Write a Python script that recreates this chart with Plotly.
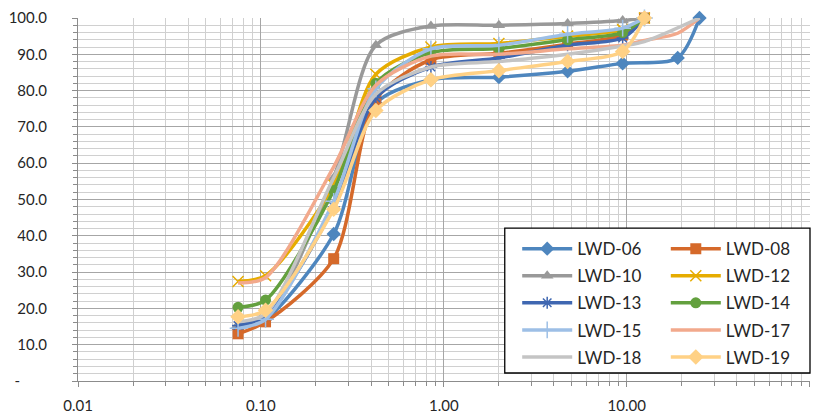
import plotly.graph_objects as go

sieve_mm = [0.075, 0.106, 0.25, 0.425, 0.85, 2.0, 4.75, 9.5, 12.5, 19.0, 25.0]

lwd06 = [14.5, 17.0, 40.5, 76.5, 83.0, 83.7, 85.3, 87.5, None, 89.0, 100.0]
lwd08 = [13.0, 16.3, 33.7, 77.5, 88.5, 90.3, 92.8, 95.3, 100.0, None, None]
lwd10 = [15.5, 17.5, 56.0, 92.5, 97.8, 98.0, 98.5, 99.3, 100.0, None, None]
lwd12 = [27.4, 29.0, 54.0, 84.5, 92.0, 93.0, 95.0, 96.8, 100.0, None, None]
lwd13 = [15.3, 18.0, 48.0, 78.0, 86.5, 89.0, 92.5, 94.5, 100.0, None, None]
lwd14 = [20.3, 22.3, 52.5, 82.0, 90.5, 91.6, 94.0, 96.0, 100.0, None, None]
lwd15 = [14.5, 17.0, 49.5, 80.5, 91.5, 92.5, 95.5, 97.2, 100.0, None, None]
lwd17 = [27.0, 28.5, 59.0, 81.5, 89.5, 90.0, 91.5, 92.5, 93.8, 95.8, 100.0]
lwd18 = [16.3, 18.5, 56.0, 79.0, 86.5, 88.0, 90.0, 92.3, 93.5, None, 100.0]
lwd19 = [17.7, 19.5, 47.3, 74.5, 83.0, 85.5, 88.0, 90.8, 100.0, None, None]

names = ["LWD-06", "LWD-08", "LWD-10", "LWD-12", "LWD-13",
         "LWD-14", "LWD-15", "LWD-17", "LWD-18", "LWD-19"]
series = [lwd06, lwd08, lwd10, lwd12, lwd13, lwd14, lwd15, lwd17, lwd18, lwd19]

x_tick_vals = [0.01, 0.1, 1, 10, 100]
x_tick_text = ["0.01", "0.10", "1.00", "10.00", "100.00"]
y_tick_vals = [0, 10, 20, 30, 40, 50, 60, 70, 80, 90, 100]
y_tick_text = ["-\u00a0\u00a0\u00a0\u00a0\u00a0\u00a0\u00a0", "10.0", "20.0", "30.0", "40.0", "50.0",
               "60.0", "70.0", "80.0", "90.0", "100.0"]

colors = ["#4E86BE", "#D5692A", "#999999", "#E6AC00", "#3F67B1",
          "#63A03E", "#9DBFE6", "#F2A98C", "#C4C4C4", "#FFD185"]
symbols = ["diamond", "square", "triangle-up", "x-thin-open", "asterisk-open",
           "circle", "cross-thin-open", None, None, "diamond"]
msizes = [11, 11, 11, 11, 10, 11, 12, 0, 0, 12]

fig = go.Figure()
for i, (nm, vals) in enumerate(zip(names, series)):
    xs = [x for x, v in zip(sieve_mm, vals) if v is not None]
    ys = [v for v in vals if v is not None]
    mode = "lines+markers" if symbols[i] else "lines"
    mk = dict(color=colors[i], size=msizes[i])
    if symbols[i]:
        mk["symbol"] = symbols[i]
        if symbols[i].endswith("open"):
            mk["line"] = dict(color=colors[i], width=1.5)
    fig.add_trace(go.Scatter(
        x=xs, y=ys, name=nm, mode=mode, cliponaxis=False,
        line=dict(color=colors[i], width=3.5, shape="spline", smoothing=0.8),
        marker=mk,
        legend="legend" if i % 2 == 0 else "legend2",
        legendgroup=nm,
    ))

minor_x = [m * 10 ** e for e in (-2, -1, 0, 1) for m in range(2, 10)]

# page body has an 8px margin, so the figure is drawn 8px smaller with shifted margins
fig.update_layout(
    width=820, height=405,
    margin=dict(l=70, r=18, t=10, b=32),
    paper_bgcolor="white", plot_bgcolor="white",
    font=dict(family="Lato, sans-serif", color="#262626", size=15),
    showlegend=True,
    legend=dict(x=0.6, y=0.413, xanchor="left", yanchor="top",
                font=dict(size=17), itemwidth=50, tracegroupgap=2,
                bgcolor="rgba(0,0,0,0)"),
    legend2=dict(x=0.803, y=0.413, xanchor="left", yanchor="top",
                 font=dict(size=17), itemwidth=50, tracegroupgap=2,
                 bgcolor="rgba(0,0,0,0)"),
    shapes=[dict(type="rect", xref="paper", yref="paper",
                 x0=0.583, x1=1.0, y0=0.022, y1=0.421,
                 line=dict(color="black", width=1.3), fillcolor="white",
                 layer="above")],
)

fig.update_xaxes(
    type="log", range=[-2, 2.002], automargin=False,
    tickmode="array", tickvals=x_tick_vals, ticktext=x_tick_text,
    showgrid=True, gridcolor="#A6A6A6", gridwidth=1,
    showline=True, linecolor="#8C8C8C", linewidth=1,
    ticks="outside", ticklen=5, tickcolor="#8C8C8C",
    minor=dict(tickmode="array", tickvals=minor_x, showgrid=True,
               gridcolor="#D0D0D0", ticks="outside", ticklen=4, tickcolor="#8C8C8C"),
    ticklabelstandoff=6, zeroline=False,
    tickfont=dict(size=15),
)
fig.update_yaxes(
    range=[0, 100], automargin=False,
    tickmode="array", tickvals=y_tick_vals, ticktext=y_tick_text,
    showgrid=True, gridcolor="#A6A6A6", gridwidth=1,
    showline=True, linecolor="#8C8C8C", linewidth=1,
    ticks="outside", ticklen=5, tickcolor="#8C8C8C",
    minor=dict(dtick=2, showgrid=True, gridcolor="#D0D0D0",
               ticks="outside", ticklen=4, tickcolor="#8C8C8C"),
    ticklabelstandoff=22, zeroline=False,
    tickfont=dict(size=15),
)

fig.write_html("out.html")
